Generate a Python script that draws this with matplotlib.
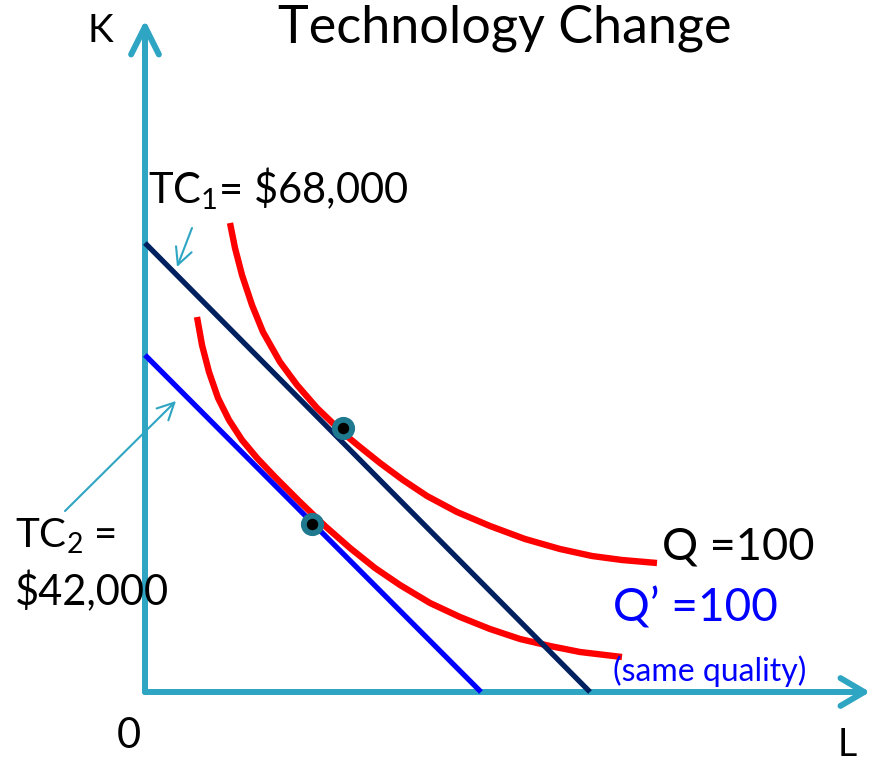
import matplotlib
matplotlib.use("Agg")
import matplotlib.pyplot as plt

plt.rcParams['font.family'] = ['Lato', 'DejaVu Sans']
plt.rcParams['mathtext.fontset'] = 'custom'
plt.rcParams['mathtext.rm'] = 'Lato'
plt.rcParams['mathtext.it'] = 'Lato:italic'
plt.rcParams['mathtext.bf'] = 'Lato:bold'

# ---- data (L = labour, K = capital) ----
tc1_intercepts = [445, 449]          # L-intercept, K-intercept of TC1 budget line
tc2_intercepts = [336, 337]          # L-intercept, K-intercept of TC2 budget line

q_L = [85, 90, 97, 107, 118, 135, 152, 172, 198, 215, 235, 258, 282, 312, 345, 380, 415, 447, 477, 512]
q_K = [469, 444, 417, 387, 360, 330, 307, 284, 259, 245, 229, 212, 196, 180, 166, 153, 143, 136, 132, 129]

q2_L = [52, 57, 64, 73, 84, 97, 112, 130, 155, 180, 205, 230, 255, 285, 315, 345, 375, 405, 435, 477]
q2_K = [375, 347, 320, 294, 272, 252, 234, 215, 190, 166, 144, 124, 107, 89, 75, 63, 53, 46, 40, 35]

opt_L = [198, 167]
opt_K = [264, 168]

title = "Technology Change"
tc1_label = "TC$_1$= \\$68,000"
tc2_label = ["TC$_2$ =", "\\$42,000"]
q_label = "Q =100"
q2_label = "Q\u2019 =100"
note = "(same quality)"

AXIS = '#2EA5C2'
NAVY = '#002060'
BLUE = '#0000FF'
RED = '#FF0000'
RING = '#1F7A8F'

fig = plt.figure(figsize=(8.73, 7.62), dpi=100)
ax = fig.add_axes([0, 0, 1, 1])
ax.set_xlim(-145, 728)
ax.set_ylim(-70, 692)
ax.axis('off')

# axes with open arrow heads
ax.annotate('', xy=(0, 672), xytext=(0, 0),
            arrowprops=dict(arrowstyle='->,head_length=1.0,head_width=0.5',
                            lw=4.3, color=AXIS, shrinkA=0, shrinkB=0,
                            mutation_scale=20, capstyle='round', joinstyle='round'))
ax.annotate('', xy=(725, 0), xytext=(0, 0),
            arrowprops=dict(arrowstyle='->,head_length=0.85,head_width=0.5',
                            lw=4.3, color=AXIS, shrinkA=0, shrinkB=0,
                            mutation_scale=20, capstyle='round', joinstyle='round'))

# isoquants
ax.plot(q_L, q_K, color=RED, lw=4.6, solid_capstyle='butt', solid_joinstyle='round', zorder=2)
ax.plot(q2_L, q2_K, color=RED, lw=4.6, solid_capstyle='butt', solid_joinstyle='round', zorder=2)

# budget lines
ax.plot([0, tc1_intercepts[0]], [tc1_intercepts[1], 0], color=NAVY, lw=3.8,
        solid_capstyle='butt', zorder=3)
ax.plot([0, tc2_intercepts[0]], [tc2_intercepts[1], 0], color=BLUE, lw=3.8,
        solid_capstyle='butt', zorder=3)

# optimum points
ax.plot(opt_L, opt_K, 'o', ms=12.5, mfc='black', mec=RING, mew=4.2, zorder=5)

# labels
ax.text(133, 650, title, fontsize=37.5, ha='left', va='baseline')
ax.text(-58, 650, "K", fontsize=28, ha='left', va='baseline')
ax.text(3, 489, tc1_label, fontsize=30, ha='left', va='baseline')
ax.text(-130, 144, tc2_label[0], fontsize=29, ha='left', va='baseline')
ax.text(-130, 87, tc2_label[1], fontsize=30, ha='left', va='baseline')
ax.text(517, 132, q_label, fontsize=32.5, ha='left', va='baseline')
ax.text(468, 70, q2_label, fontsize=33, ha='left', va='baseline', color=BLUE)
ax.text(468, 11, note, fontsize=23, ha='left', va='baseline', color=BLUE)
ax.text(-28, -56, "0", fontsize=30, ha='left', va='baseline')
ax.text(693, -64, "L", fontsize=27, ha='left', va='baseline')

# label pointers
ax.annotate('', xy=(32, 425), xytext=(47, 464),
            arrowprops=dict(arrowstyle='->,head_length=0.6,head_width=0.3',
                            lw=1.5, color=AXIS, shrinkA=0, shrinkB=0, mutation_scale=20))
ax.annotate('', xy=(31, 291), xytext=(-80, 181),
            arrowprops=dict(arrowstyle='->,head_length=0.6,head_width=0.3',
                            lw=1.5, color=AXIS, shrinkA=0, shrinkB=0, mutation_scale=20))

fig.savefig('out.png', dpi=100)
